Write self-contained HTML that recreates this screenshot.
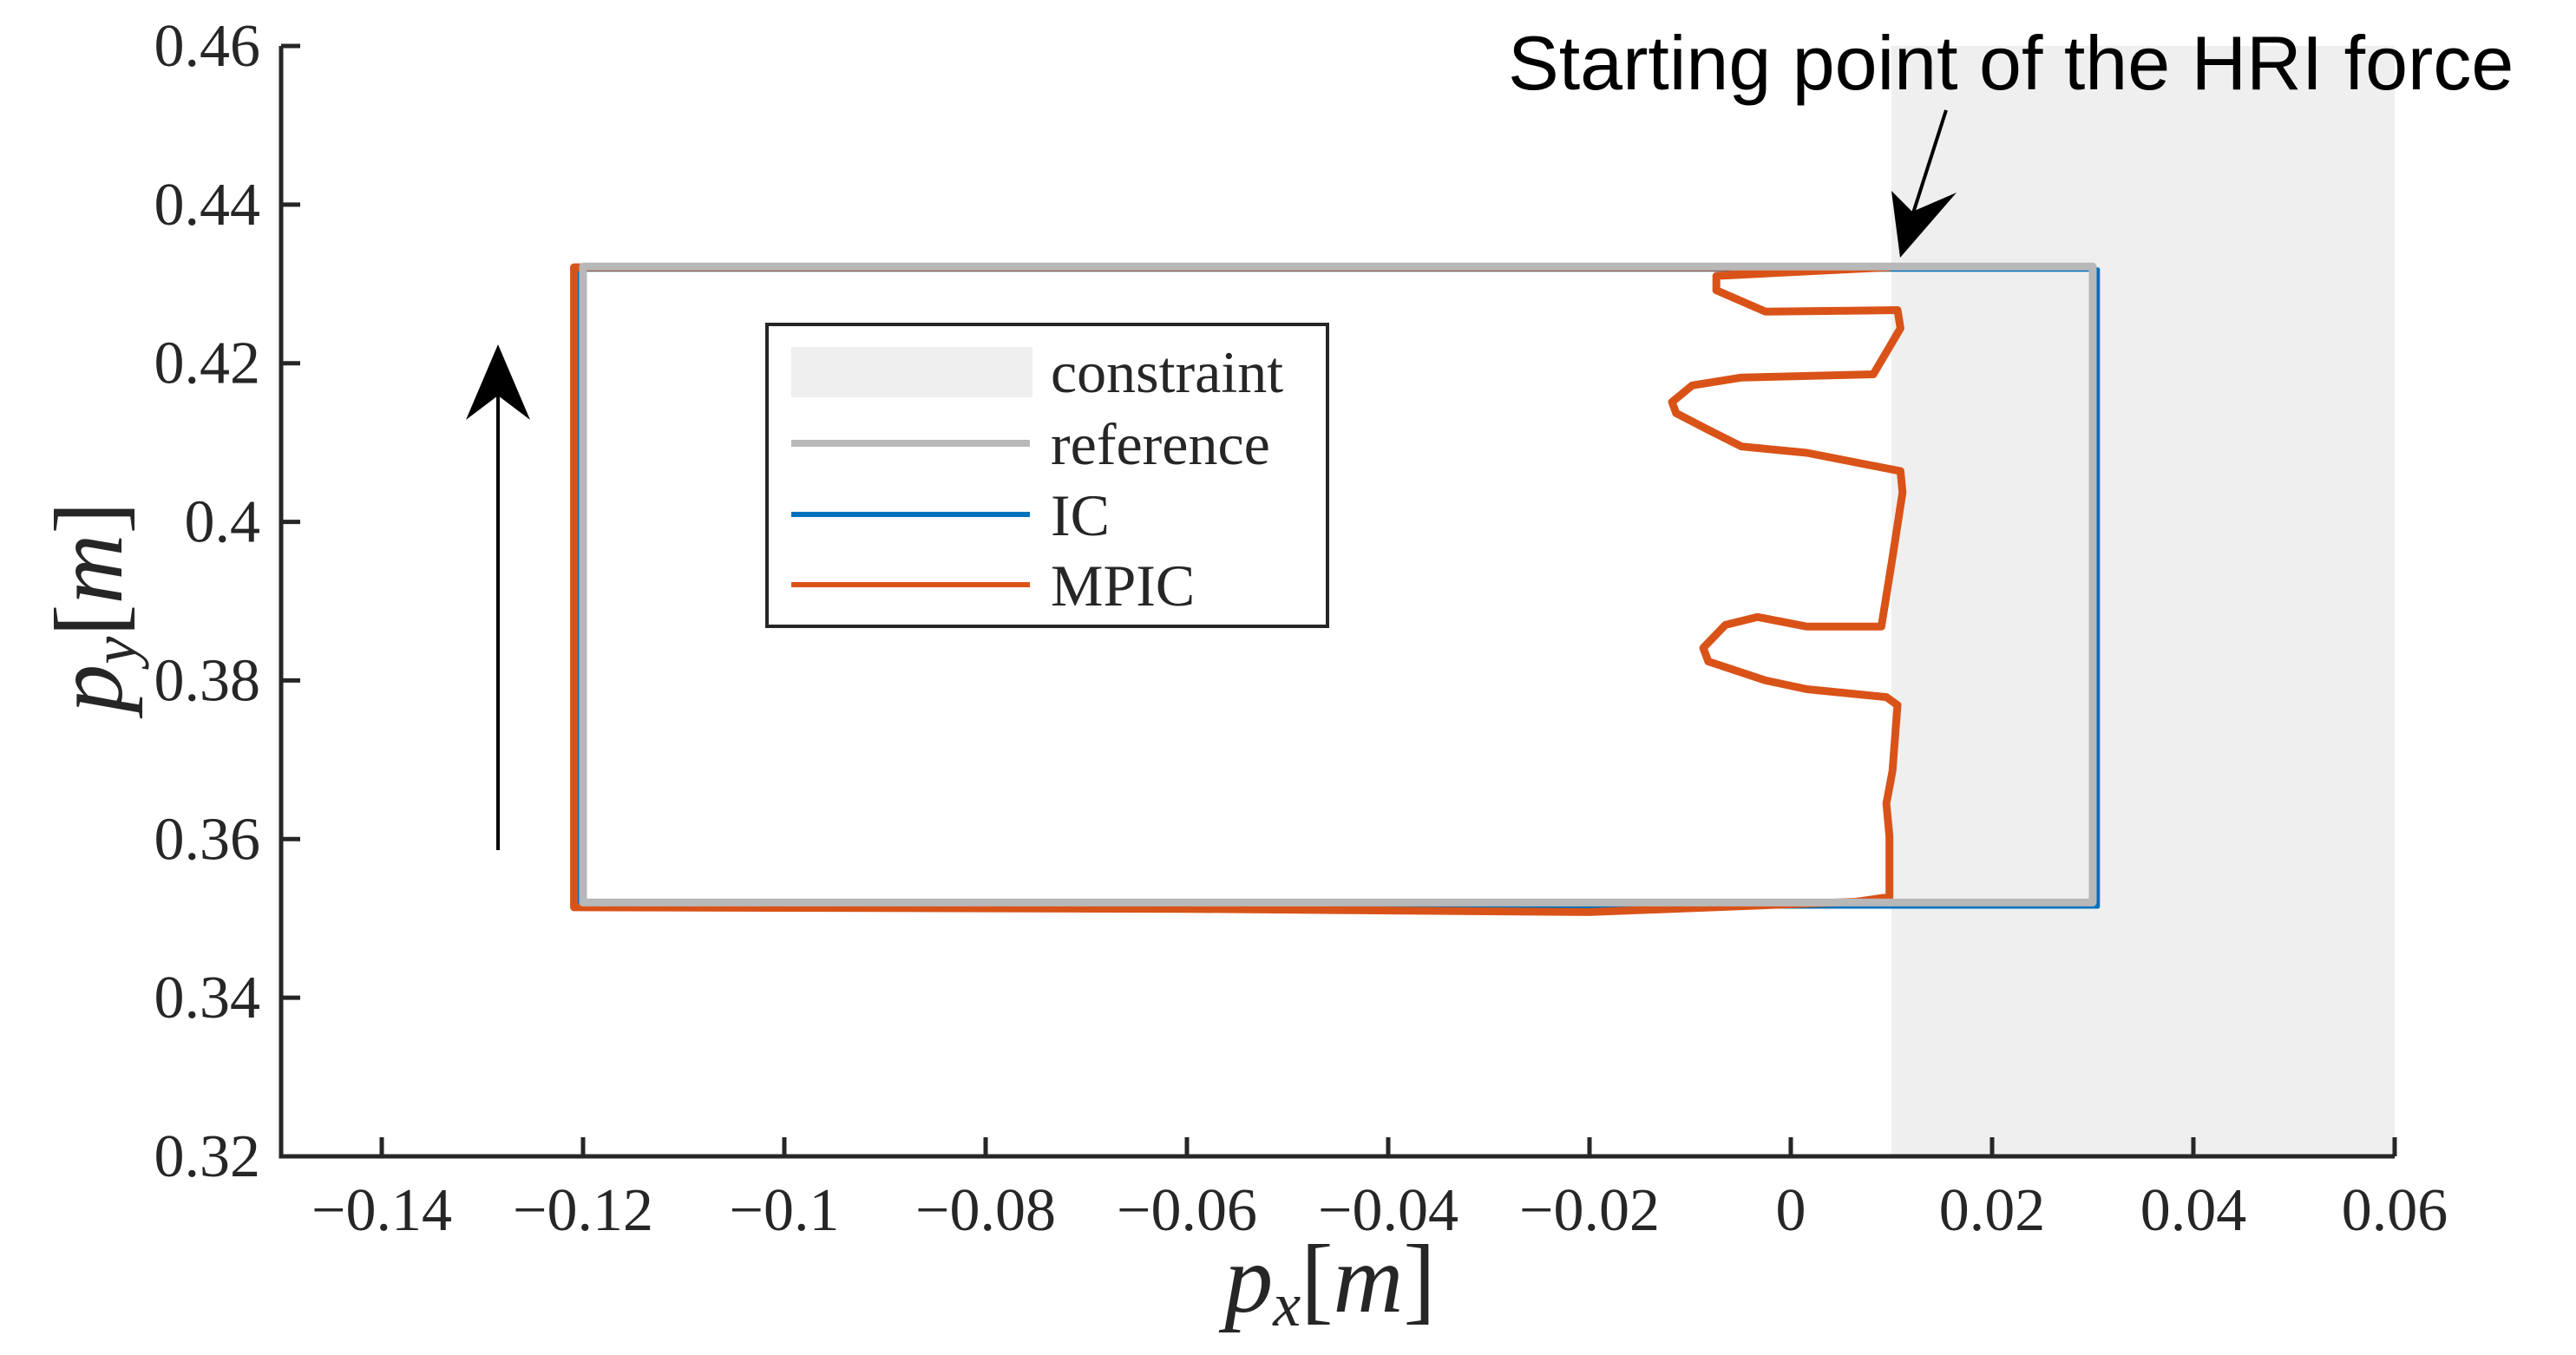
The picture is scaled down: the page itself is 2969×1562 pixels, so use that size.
<!DOCTYPE html>
<html><head><meta charset="utf-8"><style>
html,body{margin:0;padding:0;background:#fff;}
svg{display:block;}
</style></head><body>
<svg id="chart" width="2969" height="1562" viewBox="0 0 2969 1562" xmlns="http://www.w3.org/2000/svg"></svg>
<script>
const xTicks=[-0.14,-0.12,-0.1,-0.08,-0.06,-0.04,-0.02,0,0.02,0.04,0.06];
const xTickLabels=["\u22120.14","\u22120.12","\u22120.1","\u22120.08","\u22120.06","\u22120.04","\u22120.02","0","0.02","0.04","0.06"];
const yTicks=[0.32,0.34,0.36,0.38,0.4,0.42,0.44,0.46];
const yTickLabels=["0.32","0.34","0.36","0.38","0.4","0.42","0.44","0.46"];
const constraintX=[0.01,0.06];
const refX=[-0.12,0.03,0.03,-0.12,-0.12];
const refY=[0.4322,0.4322,0.352,0.352,0.4322];
const icX=[-0.1205,0.0305,0.0305,-0.1205,-0.1205];
const icY=[0.4318,0.4318,0.3515,0.3515,0.4318];
const mpicX=[0.0098,-0.0074,-0.0074,-0.0025,0.0106,0.0109,0.0082,-0.0049,-0.0098,-0.0118,-0.0114,-0.0082,-0.0049,0.0016,0.0109,0.0111,0.0101,0.009,0.0016,-0.0033,-0.0065,-0.0087,-0.0082,-0.0025,0.0016,0.0095,0.0106,0.0101,0.0095,0.0098,0.0098,0.0065,-0.02,-0.06,-0.1209,-0.1209,-0.1209,0.0098];
const mpicY=[0.4321,0.431,0.4292,0.4265,0.4267,0.4244,0.4186,0.4182,0.4172,0.4151,0.4137,0.4116,0.4095,0.4087,0.4064,0.4037,0.3955,0.3868,0.3868,0.388,0.387,0.3841,0.3824,0.38,0.3789,0.3779,0.3769,0.3686,0.3645,0.3603,0.3527,0.3521,0.3508,0.3512,0.3514,0.392,0.4321,0.4321];

const L=324,R=2760,T=53,B=1333;
const X0=-0.15,X1=0.06,Y0=0.32,Y1=0.46;
function sx(v){return L+(v-X0)/(X1-X0)*(R-L);}
function sy(v){return B-(v-Y0)/(Y1-Y0)*(B-T);}
const svg=document.getElementById('chart');
const NS='http://www.w3.org/2000/svg';
function mk(tag,attrs){const e=document.createElementNS(NS,tag);for(const k in attrs)e.setAttribute(k,attrs[k]);svg.appendChild(e);return e;}

let c=mk('rect',{x:sx(constraintX[0]),y:T,width:sx(constraintX[1])-sx(constraintX[0]),height:B-T,fill:'#efefef'});



function poly(xs,ys,color,w,name){
  let d='';for(let i=0;i<xs.length;i++)d+=(i?'L':'M')+sx(xs[i]).toFixed(1)+' '+sy(ys[i]).toFixed(1);
  const p=mk('path',{d:d,fill:'none',stroke:color,'stroke-width':w,'stroke-linejoin':'round','stroke-linecap':'round'});
  
  
}
poly(icX,icY,'#0072bd',5,'ic-line');
poly(mpicX,mpicY,'#d95319',9,'mpic-line');
poly(refX,refY,'#b8b8b8',9,'reference-line');

let ax=mk('path',{d:`M${L} ${T}L${L} ${B}L${R} ${B}`,fill:'none',stroke:'#262626','stroke-width':5});


xTicks.forEach((v,i)=>{
  const x=sx(v);
  const t=mk('line',{x1:x,y1:B,x2:x,y2:B-22,stroke:'#262626','stroke-width':5});
  
  
  const tx=mk('text',{x:x,y:1418,'text-anchor':'middle','font-family':'Liberation Serif, serif','font-size':70,fill:'#262626'});
  tx.textContent=xTickLabels[i];
  
  
});
yTicks.forEach((v,i)=>{
  const y=sy(v);
  const t=mk('line',{x1:L,y1:y,x2:L+22,y2:y,stroke:'#262626','stroke-width':5});
  
  
  const tx=mk('text',{x:300,y:y+23,'text-anchor':'end','font-family':'Liberation Serif, serif','font-size':70,fill:'#262626'});
  tx.textContent=yTickLabels[i];
  
  
});
</script>
<svg style="position:absolute;left:0;top:0" width="2969" height="1562" xmlns="http://www.w3.org/2000/svg">
  <text x="1533" y="1512" text-anchor="middle" font-family="Liberation Serif, serif" font-size="112" fill="#262626"><tspan font-style="italic">p</tspan><tspan font-style="italic" font-size="72" dy="16">x</tspan><tspan dy="-16">[</tspan><tspan font-style="italic">m</tspan>]</text>
  <text transform="translate(140,700) rotate(-90)" text-anchor="middle" font-family="Liberation Serif, serif" font-size="112" fill="#262626"><tspan font-style="italic">p</tspan><tspan font-style="italic" font-size="72" dy="16">y</tspan><tspan dy="-16">[</tspan><tspan font-style="italic">m</tspan>]</text>
  <g>
    <rect x="884" y="374" width="646" height="348" fill="#fff" stroke="#262626" stroke-width="4"/>
    <rect x="912" y="400" width="278" height="58" fill="#efefef"/>
    <line x1="912" y1="511" x2="1187" y2="511" stroke="#b8b8b8" stroke-width="8"/>
    <line x1="912" y1="593" x2="1187" y2="593" stroke="#0072bd" stroke-width="6"/>
    <line x1="912" y1="674" x2="1187" y2="674" stroke="#d95319" stroke-width="6"/>
    <g font-family="Liberation Serif, serif" font-size="68" fill="#262626">
      <text x="1211" y="452">constraint</text>
      <text x="1211" y="535">reference</text>
      <text x="1211" y="617">IC</text>
      <text x="1211" y="698">MPIC</text>
    </g>
  </g>
  <text x="1738" y="103" font-family="Liberation Sans, sans-serif" font-size="88" fill="#000">Starting point of the HRI force</text>
  <g>
    <line x1="2243" y1="127" x2="2202" y2="255" stroke="#000" stroke-width="4"/>
    <polygon points="2190,297 2180,220 2204,244 2255,222" fill="#000"/>
  </g>
  <g>
    <line x1="574" y1="980" x2="574" y2="440" stroke="#000" stroke-width="4"/>
    <polygon points="574,397 537,484 574,456 611,484" fill="#000"/>
  </g>
</svg>
</body></html>
